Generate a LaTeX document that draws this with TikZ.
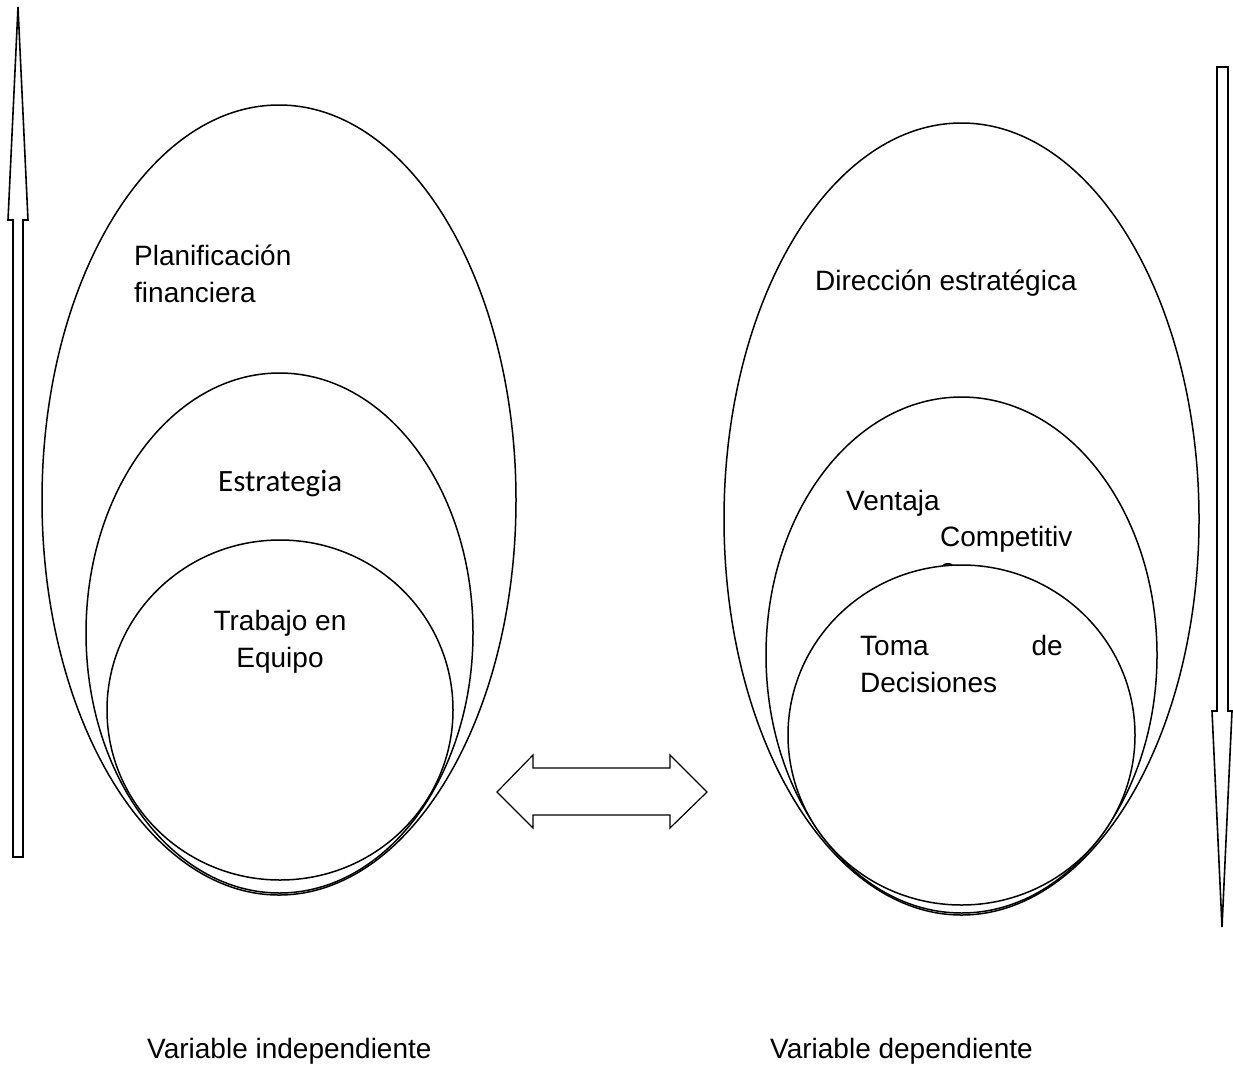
\documentclass[tikz,border=0pt]{standalone}
\usepackage{fontspec}
\setmainfont{Liberation Sans}
\newfontfamily\calfont{Carlito}
\usetikzlibrary{shapes.geometric}
\begin{document}
\begin{tikzpicture}[x=1pt,y=-1pt,
  oval/.style={ellipse,draw,fill=white,line width=1.5pt,inner sep=0pt},
  hollowarrow/.style={draw,fill=white,line width=1.6pt,line join=miter},
  lbl/.style={inner sep=0pt,font=\fontsize{28}{38}\selectfont}]
\useasboundingbox (0,0) rectangle (1233,1084);

% side arrows
\draw[hollowarrow] (13,857) -- (13,220) -- (8,220) -- (18,7) -- (28,220)
  -- (23,220) -- (23,857) -- cycle;
\draw[hollowarrow] (1217,67) -- (1228,67) -- (1228,711) -- (1232,711)
  -- (1222,927) -- (1212,711) -- (1217,711) -- cycle;

% left group
\node[oval,minimum width=474pt,minimum height=790pt] (planOut) at (279,500) {};
\node[lbl,anchor=base west] (plan1) at (134,265) {Planificación};
\node[lbl,anchor=base west] (plan2) at (134,302) {financiera};
\node[oval,minimum width=387pt,minimum height=520pt] (estOut) at (279.5,633) {};
\node[inner sep=0pt,anchor=base west,font=\calfont\fontsize{31}{38}\selectfont] (est) at (218,491) {Estrategia};
\node[oval,minimum width=346pt,minimum height=340pt] (trabOut) at (280,710) {};
\node[lbl,anchor=base] (trab1) at (280,630) {Trabajo en};
\node[lbl,anchor=base] (trab2) at (280,667) {Equipo};

% right group
\node[oval,minimum width=475pt,minimum height=792pt] (dirOut) at (961.5,519) {};
\node[lbl,anchor=base west] (dir) at (815,290) {Dirección estratégica};
\node[oval,minimum width=391pt,minimum height=516pt] (venOut) at (961.5,655) {};
\node[lbl,anchor=base west] (ven1) at (846,510) {Ventaja};
\node[lbl,anchor=base west] (ven2) at (940,546) {Competitiv};
\node[lbl,anchor=base west] (ven3) at (940,578) {o};
\node[oval,minimum width=347pt,minimum height=340pt] (tomOut) at (961.5,735) {};
\node[lbl,anchor=base west] (tom1) at (860,655) {Toma};
\node[lbl,anchor=base east] (tom2) at (1063,655) {de};
\node[lbl,anchor=base west] (tom3) at (860,692) {Decisiones};

% double arrow between the variables
\draw[hollowarrow,line width=1.2pt] (497,792) -- (533,755) -- (533,768) -- (670,768)
  -- (670,755) -- (707,792) -- (670,828) -- (670,815) -- (533,815)
  -- (533,828) -- cycle;

% captions
\node[lbl,anchor=base west] (varInd) at (147,1058) {Variable independiente};
\node[lbl,anchor=base west] (varDep) at (770,1058) {Variable dependiente};
\end{tikzpicture}
\end{document}
